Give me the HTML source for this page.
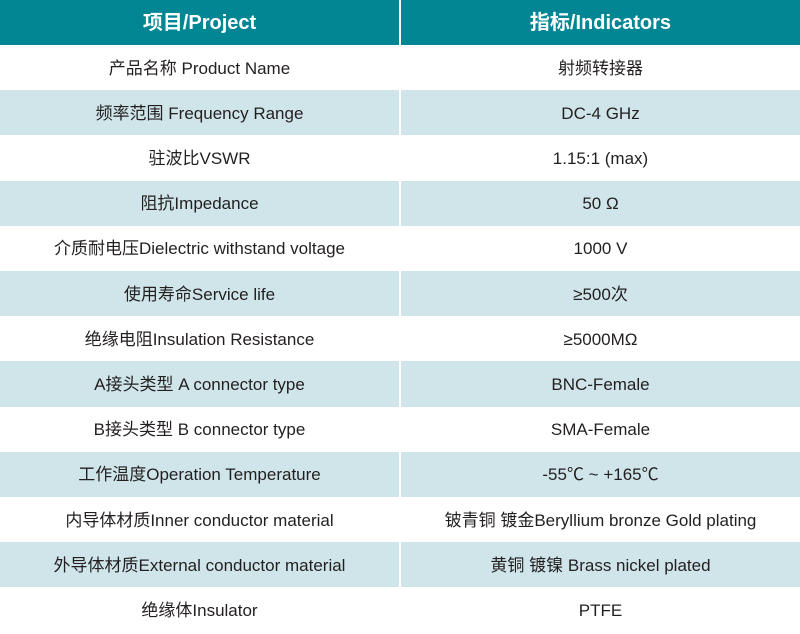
<!DOCTYPE html>
<html><head><meta charset="utf-8"><style>
body{margin:0;width:800px;height:634px;background:#fff;overflow:hidden;font-family:"Liberation Sans","Noto Sans CJK SC",sans-serif;}
.r{position:absolute;left:0;width:800px;height:45.2px;}
.c{position:absolute;top:0;height:100%;line-height:45px;text-align:center;font-size:17px;color:#231f20;white-space:nowrap;}
.c span{display:inline-block;line-height:20px;vertical-align:middle;}
.a{left:0;width:399px}.b{left:401px;width:399px}
.h .c{background:#038694;color:#fff;font-size:20px;font-weight:bold;}
.o .c{background:#cfe5ea;}
</style></head><body>
<div class="r h" style="top:0;height:45px"><div class="c a"><span>项目/Project</span></div><div class="c b"><span>指标/Indicators</span></div></div>
<div class="r" style="top:45px"><div class="c a"><span>产品名称 Product Name</span></div><div class="c b"><span>射频转接器</span></div></div>
<div class="r o" style="top:90.2px"><div class="c a"><span>频率范围 Frequency Range</span></div><div class="c b"><span>DC-4 GHz</span></div></div>
<div class="r" style="top:135.4px"><div class="c a"><span>驻波比VSWR</span></div><div class="c b"><span>1.15:1 (max)</span></div></div>
<div class="r o" style="top:180.6px"><div class="c a"><span>阻抗Impedance</span></div><div class="c b"><span>50 Ω</span></div></div>
<div class="r" style="top:225.8px"><div class="c a"><span>介质耐电压Dielectric withstand voltage</span></div><div class="c b"><span>1000 V</span></div></div>
<div class="r o" style="top:271px"><div class="c a"><span>使用寿命Service life</span></div><div class="c b"><span>≥500次</span></div></div>
<div class="r" style="top:316.2px"><div class="c a"><span>绝缘电阻Insulation Resistance</span></div><div class="c b"><span>≥5000MΩ</span></div></div>
<div class="r o" style="top:361.4px"><div class="c a"><span>A接头类型 A connector type</span></div><div class="c b"><span>BNC-Female</span></div></div>
<div class="r" style="top:406.6px"><div class="c a"><span>B接头类型 B connector type</span></div><div class="c b"><span>SMA-Female</span></div></div>
<div class="r o" style="top:451.8px"><div class="c a"><span>工作温度Operation Temperature</span></div><div class="c b"><span>-55℃ ~ +165℃</span></div></div>
<div class="r" style="top:497px"><div class="c a"><span>内导体材质Inner conductor material</span></div><div class="c b"><span>铍青铜 镀金Beryllium bronze Gold plating</span></div></div>
<div class="r o" style="top:542.2px"><div class="c a"><span>外导体材质External conductor material</span></div><div class="c b"><span>黄铜 镀镍 Brass nickel plated</span></div></div>
<div class="r" style="top:587.4px"><div class="c a"><span>绝缘体Insulator</span></div><div class="c b"><span>PTFE</span></div></div>
</body></html>
